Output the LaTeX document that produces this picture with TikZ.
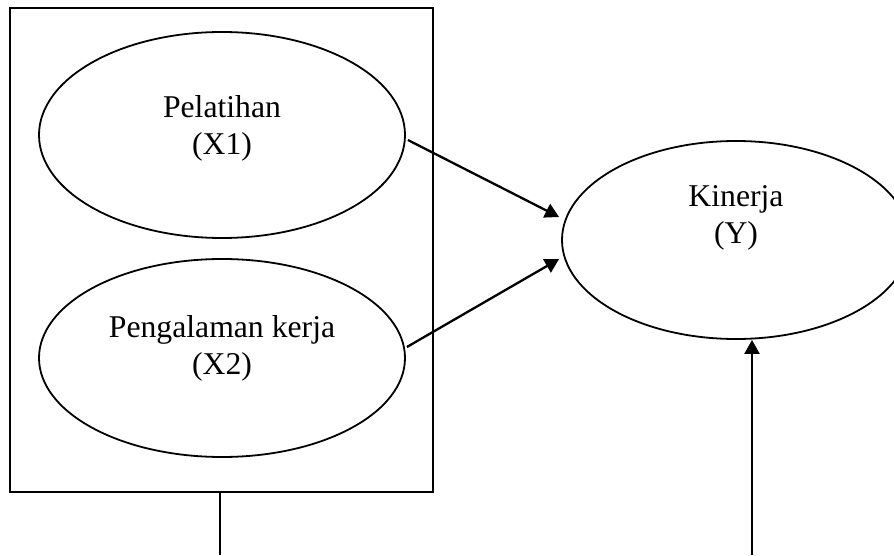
\documentclass[tikz,border=0pt]{standalone}
\usepackage{fontspec}
\setmainfont{Liberation Serif}
\usetikzlibrary{shapes.geometric,arrows.meta}
\tikzset{
  oval/.style={draw, ellipse, line width=1.8pt, minimum width=366pt, minimum height=200pt, inner sep=0pt},
  lbl/.style={align=center, inner sep=0pt, font=\fontsize{31.7}{37}\selectfont},
  frame/.style={draw, line width=1.9pt},
  arr/.style={line width=2.3pt, -{Triangle[length=14pt,width=15pt]}},
  plain/.style={line width=2.1pt}
}
\begin{document}
\begin{tikzpicture}[x=1pt,y=1pt]
\useasboundingbox (0,0) rectangle (894,555);
\clip (0,0) rectangle (894,555);
\node[frame, minimum width=423pt, minimum height=484pt, inner sep=0pt] (box) at (221.5,305) {};
\node[oval, minimum height=206pt] (e1) at (222,420) {};
\node[oval, minimum height=198pt] (e2) at (222,197) {};
\node[oval, minimum width=348pt, minimum height=198pt] (ey) at (736,315) {};
\node[lbl] (t1) at ([yshift=7pt]e1.center) {Pelatihan\\(X1)};
\node[lbl] (t2) at ([yshift=10pt]e2.center) {Pengalaman kerja\\(X2)};
\node[lbl] (ty) at ([yshift=22pt]ey.center) {Kinerja\\(Y)};
\coordinate (c1) at (220,0);
\coordinate (c2) at (752,0);
\draw[plain] (c1 |- box.south) -- (c1);
\draw[arr] (c2) -- (c2 |- ey.south);
\draw[arr] ([shift={(2,-5)}]e1.east) -- ([shift={(-2,23)}]ey.west);
\draw[arr] ([shift={(1,11)}]e2.east) -- ([shift={(-2,-19)}]ey.west);
\end{tikzpicture}
\end{document}
